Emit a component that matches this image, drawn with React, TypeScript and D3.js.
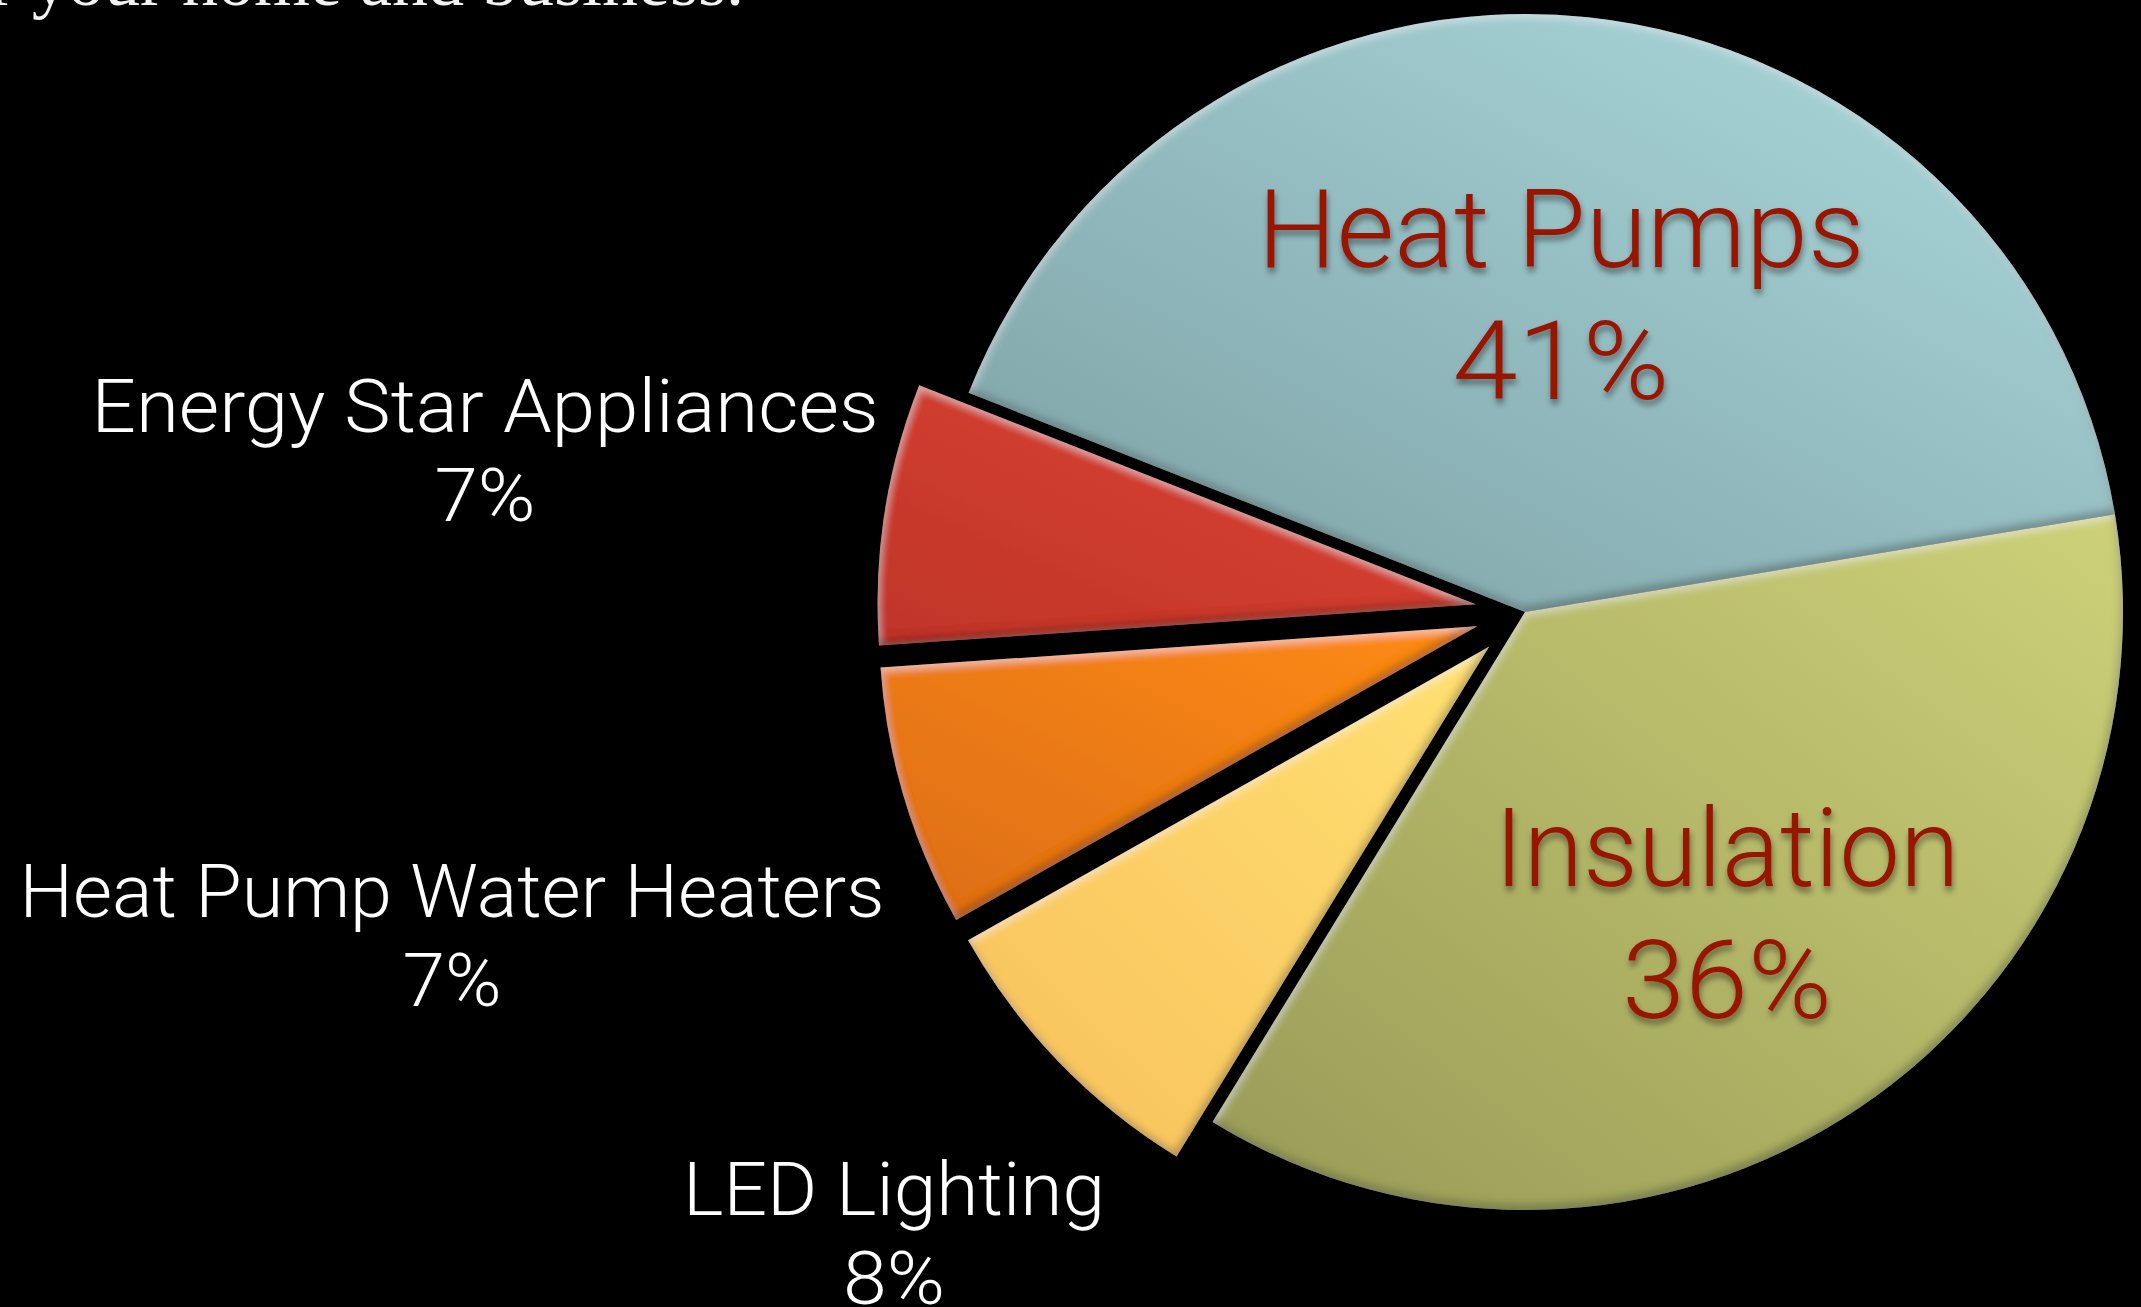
import React from "react";
import * as d3 from "d3";

// ---- data ----
const categories = [
  "Heat Pumps",
  "Insulation",
  "LED Lighting",
  "Heat Pump Water Heaters",
  "Energy Star Appliances",
];
const values = [41, 36, 8, 7, 7];
const valueLabels = ["41%", "36%", "8%", "7%", "7%"];
const explodedFlags = [false, false, true, true, true];
const lightColors = ["#acdade", "#cdd178", "#ffe173", "#fe8b17", "#df4333"];
const darkColors = ["#7c9fa3", "#989b57", "#f8c05b", "#dc6d12", "#bf3529"];

// ---- layout ----
const W = 2141;
const H = 1307;
const CX = 1525;
const CY = 612;
const R = 598;
const EXPLODE = 50;
const START_DEG = -68.5;
// label layout: centre x, first baseline, widths of the two lines
const labelPos = [
  { x: 1561, y: 267, w1: 607, w2: 217 },
  { x: 1727, y: 886, w1: 465, w2: 210 },
  { x: 894, y: 1215, w1: 422, w2: 102 },
  { x: 452, y: 917, w1: 865, w2: 99 },
  { x: 485, y: 432, w1: 787, w2: 101 },
];
const insideFlags = [true, true, false, false, false];

export default function App() {
  const pie = d3
    .pie<number>()
    .sort(null)
    .value((d) => d)
    .startAngle((START_DEG * Math.PI) / 180)
    .endAngle((START_DEG * Math.PI) / 180 + 2 * Math.PI);
  const arcs = pie(values);
  const arcGen = d3.arc<d3.PieArcDatum<number>>().innerRadius(0).outerRadius(R);

  return (
    <svg
      width={W}
      height={H}
      style={{ position: "absolute", left: 0, top: 0, display: "block" }}
      xmlns="http://www.w3.org/2000/svg"
    >
      <defs>
        {arcs.map((a, i) => (
          <linearGradient key={i} id={`g${i}`} x1="1" y1="0" x2="0" y2="1">
            <stop offset="0" stopColor={lightColors[i]} />
            <stop offset="1" stopColor={darkColors[i]} />
          </linearGradient>
        ))}
        <filter id="bevel" x="-10%" y="-10%" width="120%" height="120%">
          <feComponentTransfer in="SourceAlpha" result="inv">
            <feFuncA type="table" tableValues="1 0" />
          </feComponentTransfer>
          <feGaussianBlur in="inv" stdDeviation="4" result="invBlur" />
          <feOffset in="invBlur" dx="1" dy="3" result="hiOff" />
          <feFlood floodColor="#ffffff" floodOpacity="0.45" result="white" />
          <feComposite in="white" in2="hiOff" operator="in" result="hiCol" />
          <feComposite in="hiCol" in2="SourceAlpha" operator="in" result="hi" />
          <feOffset in="invBlur" dx="-2" dy="-5" result="shOff" />
          <feFlood floodColor="#000000" floodOpacity="0.55" result="black" />
          <feComposite in="black" in2="shOff" operator="in" result="shCol" />
          <feComposite in="shCol" in2="SourceAlpha" operator="in" result="sh" />
          <feMerge>
            <feMergeNode in="SourceGraphic" />
            <feMergeNode in="hi" />
            <feMergeNode in="sh" />
          </feMerge>
        </filter>
        <filter id="txtShadow" x="-10%" y="-20%" width="120%" height="150%">
          <feDropShadow dx="1" dy="5" stdDeviation="3" floodColor="#000" floodOpacity="0.45" />
        </filter>
      </defs>
      <rect x={0} y={0} width={W} height={H} fill="#000" />

      <text
        x={744}
        y={5}
        textAnchor="end"
        fill="#f2f2f2"
        fontFamily="'Liberation Serif', 'DejaVu Serif', serif"
        fontSize={72}
      >
        for your home and business.
      </text>

      <g transform={`translate(${CX},${CY})`}>
        {arcs.map((a, i) => {
          const mid = (a.startAngle + a.endAngle) / 2;
          const off = explodedFlags[i] ? EXPLODE : 0;
          const dx = Math.sin(mid) * off;
          const dy = -Math.cos(mid) * off;
          return (
            <path
              key={i}
              d={arcGen(a) || ""}
              transform={`translate(${dx},${dy})`}
              fill={`url(#g${i})`}
              filter="url(#bevel)"
            />
          );
        })}
      </g>

      {arcs.map((a, i) => {
        const p = labelPos[i];
        const inside = insideFlags[i];
        const lineGap = inside ? 132 : 89;
        return (
          <g
            key={`l${i}`}
            fill={inside ? "#981404" : "#ffffff"}
            fontFamily="'Helvetica Neue', Roboto, 'Liberation Sans', Arial, sans-serif"
            fontWeight={300}
            fontSize={inside ? 110 : 75}
            textAnchor="middle"
            filter={inside ? "url(#txtShadow)" : undefined}
          >
            <text x={p.x} y={p.y} textLength={p.w1} lengthAdjust="spacingAndGlyphs">
              {categories[i]}
            </text>
            <text x={p.x} y={p.y + lineGap} textLength={p.w2} lengthAdjust="spacingAndGlyphs">
              {valueLabels[i]}
            </text>
          </g>
        );
      })}
    </svg>
  );
}
